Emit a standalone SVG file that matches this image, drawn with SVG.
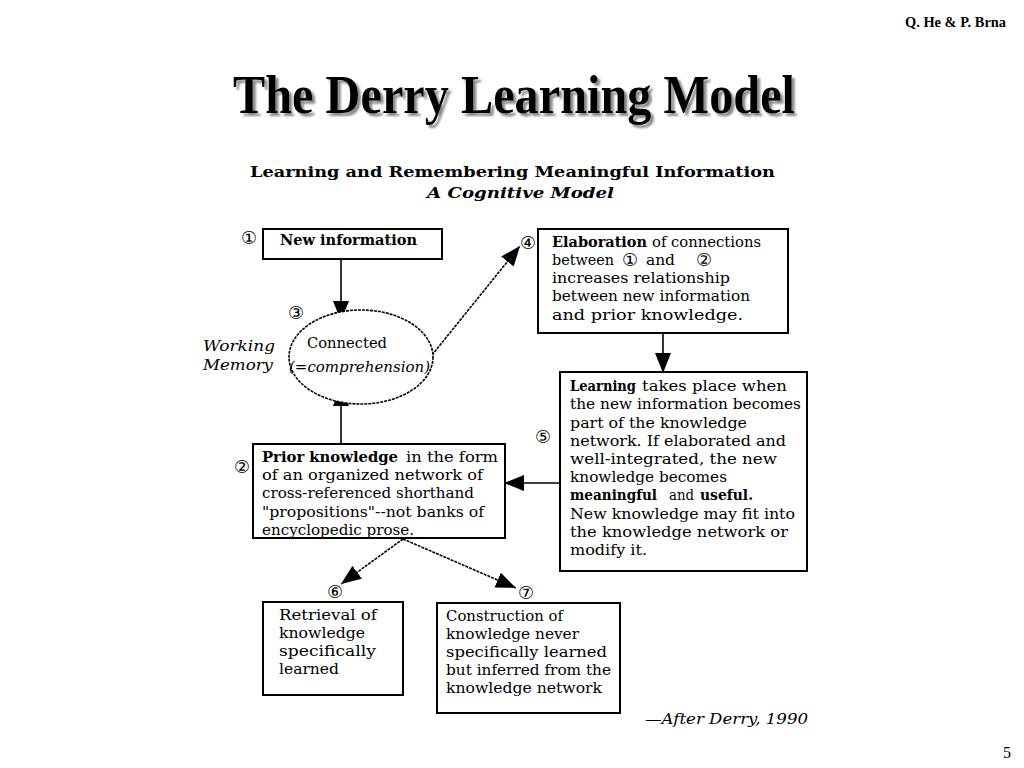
<svg xmlns="http://www.w3.org/2000/svg" width="1024" height="768" viewBox="0 0 1024 768">
<style>
.bx{fill:#fff;stroke:#000;stroke-width:2}
.t{font-family:"DejaVu Serif","Liberation Serif",serif;font-size:15.5px;fill:#000}
.b{font-weight:bold}
.num{font-family:"DejaVu Sans","Noto Sans CJK SC",sans-serif;font-size:18px;fill:#000}
.ln{stroke:#000;stroke-width:1.6;fill:none}
.dl{stroke:#000;stroke-width:1.6;fill:none;stroke-dasharray:3 1}
</style>
<defs>
<marker id="ah" markerUnits="userSpaceOnUse" markerWidth="22" markerHeight="18" refX="20" refY="9" orient="auto">
<path d="M0,1 L20,9 L0,17 Z" fill="#000"/>
</marker>
<filter id="sh" x="-5%" y="-20%" width="110%" height="140%">
<feDropShadow dx="3" dy="3" stdDeviation="1" flood-color="#888" flood-opacity="1"/>
</filter>
</defs>
<rect width="1024" height="768" fill="#fff"/>
<text x="905" y="27" textLength="101" lengthAdjust="spacingAndGlyphs" font-family="Liberation Serif,serif" font-weight="bold" font-size="14">Q. He &amp; P. Brna</text>
<text x="233" y="113" textLength="562" lengthAdjust="spacingAndGlyphs" font-family="Liberation Serif,serif" font-weight="bold" font-size="54" filter="url(#sh)">The Derry Learning Model</text>
<text x="1003" y="758" font-family="Liberation Serif,serif" font-size="16">5</text>
<text x="250" y="177" textLength="525" lengthAdjust="spacingAndGlyphs" class="t b" font-size="17">Learning and Remembering Meaningful Information</text>
<text x="427" y="198" textLength="187" lengthAdjust="spacingAndGlyphs" class="t b" font-size="17" font-style="italic">A Cognitive Model</text>

<g id="connectors">
<line class="ln" x1="341" y1="259" x2="341" y2="321" marker-end="url(#ah)"/>
<line class="ln" x1="341" y1="444" x2="341" y2="386" marker-end="url(#ah)"/>
<line class="dl" x1="432" y1="355" x2="520" y2="246" marker-end="url(#ah)"/>
<line class="ln" x1="663" y1="333" x2="663" y2="373" marker-end="url(#ah)"/>
<line class="ln" x1="560" y1="483" x2="504" y2="483" marker-end="url(#ah)"/>
<line class="dl" x1="403" y1="539" x2="341" y2="584" marker-end="url(#ah)"/>
<line class="dl" x1="403" y1="539" x2="516" y2="588" marker-end="url(#ah)"/>
</g>

<g id="n1">
<rect class="bx" x="263" y="229" width="179" height="30"/>
<text class="num" x="249" y="244" text-anchor="middle">①</text>
<text class="t b" x="280" y="245" textLength="137" lengthAdjust="spacingAndGlyphs">New information</text>
</g>
<g id="n3">
<ellipse cx="361" cy="357" rx="72" ry="47" fill="#fff" stroke="#000" stroke-width="1.6" stroke-dasharray="3 1"/>
<text class="num" x="296" y="319" text-anchor="middle">③</text>
<text x="203" y="351" textLength="72" lengthAdjust="spacingAndGlyphs" class="t" font-style="italic">Working</text>
<text x="203" y="370" textLength="70" lengthAdjust="spacingAndGlyphs" class="t" font-style="italic">Memory</text>
<text class="t" x="307" y="348" textLength="80" lengthAdjust="spacingAndGlyphs" font-family="DejaVu Sans,sans-serif" font-size="14.5">Connected</text>
<text class="t" x="289" y="372" textLength="141" lengthAdjust="spacingAndGlyphs" font-style="italic" font-size="14.5">(=comprehension)</text>
</g>
<g id="n4">
<rect class="bx" x="538" y="229" width="250" height="104"/>
<text class="num" x="528" y="249" text-anchor="middle">④</text>
<text class="t b" x="552" y="247" textLength="95" lengthAdjust="spacingAndGlyphs">Elaboration</text>
<text class="t" x="652" y="247" textLength="109" lengthAdjust="spacingAndGlyphs">of connections</text>
<text class="t" x="552" y="265" textLength="62" lengthAdjust="spacingAndGlyphs">between</text>
<text class="num" x="630" y="266" text-anchor="middle" font-size="15.5">①</text>
<text class="t" x="646" y="265" textLength="29" lengthAdjust="spacingAndGlyphs">and</text>
<text class="num" x="704" y="266" text-anchor="middle" font-size="15.5">②</text>
<text class="t" x="552" y="283" textLength="178" lengthAdjust="spacingAndGlyphs">increases relationship</text>
<text class="t" x="552" y="301" textLength="198" lengthAdjust="spacingAndGlyphs">between new information</text>
<text class="t" x="552" y="320" textLength="191" lengthAdjust="spacingAndGlyphs">and prior knowledge.</text>
</g>
<g id="n5">
<rect class="bx" x="560" y="372" width="247" height="199"/>
<text class="num" x="543" y="443" text-anchor="middle">⑤</text>
<text class="t b" x="570" y="391" textLength="66" lengthAdjust="spacingAndGlyphs">Learning</text>
<text class="t" x="642" y="391" textLength="145" lengthAdjust="spacingAndGlyphs">takes place when</text>
<text class="t" x="570" y="409" textLength="231" lengthAdjust="spacingAndGlyphs">the new information becomes</text>
<text class="t" x="570" y="428" textLength="177" lengthAdjust="spacingAndGlyphs">part of the knowledge</text>
<text class="t" x="570" y="446" textLength="216" lengthAdjust="spacingAndGlyphs">network. If elaborated and</text>
<text class="t" x="570" y="464" textLength="207" lengthAdjust="spacingAndGlyphs">well-integrated, the new</text>
<text class="t" x="570" y="482" textLength="157" lengthAdjust="spacingAndGlyphs">knowledge becomes</text>
<text class="t b" x="570" y="500" textLength="87" lengthAdjust="spacingAndGlyphs">meaningful</text>
<text class="t" x="669" y="500" textLength="25" lengthAdjust="spacingAndGlyphs">and</text>
<text class="t b" x="700" y="500" textLength="53" lengthAdjust="spacingAndGlyphs">useful.</text>
<text class="t" x="570" y="519" textLength="225" lengthAdjust="spacingAndGlyphs">New knowledge may fit into</text>
<text class="t" x="570" y="537" textLength="218" lengthAdjust="spacingAndGlyphs">the knowledge network or</text>
<text class="t" x="570" y="555" textLength="77" lengthAdjust="spacingAndGlyphs">modify it.</text>
</g>
<g id="n2">
<rect class="bx" x="253" y="444" width="252" height="94"/>
<text class="num" x="242" y="473" text-anchor="middle">②</text>
<text class="t b" x="262" y="462" textLength="136" lengthAdjust="spacingAndGlyphs">Prior knowledge</text>
<text class="t" x="406" y="462" textLength="92" lengthAdjust="spacingAndGlyphs">in the form</text>
<text class="t" x="262" y="480" textLength="221" lengthAdjust="spacingAndGlyphs">of an organized network of</text>
<text class="t" x="262" y="498" textLength="212" lengthAdjust="spacingAndGlyphs">cross-referenced shorthand</text>
<text class="t" x="262" y="517" textLength="222" lengthAdjust="spacingAndGlyphs">"propositions"--not banks of</text>
<text class="t" x="262" y="535" textLength="152" lengthAdjust="spacingAndGlyphs">encyclopedic prose.</text>
</g>
<g id="n6">
<rect class="bx" x="263" y="602" width="140" height="93"/>
<text class="num" x="335" y="598" text-anchor="middle">⑥</text>
<text class="t" x="279" y="620" textLength="98" lengthAdjust="spacingAndGlyphs">Retrieval of</text>
<text class="t" x="279" y="638" textLength="86" lengthAdjust="spacingAndGlyphs">knowledge</text>
<text class="t" x="279" y="656" textLength="97" lengthAdjust="spacingAndGlyphs">specifically</text>
<text class="t" x="279" y="674" textLength="60" lengthAdjust="spacingAndGlyphs">learned</text>
</g>
<g id="n7">
<rect class="bx" x="437" y="603" width="183" height="110"/>
<text class="num" x="526" y="599" text-anchor="middle">⑦</text>
<text class="t" x="446" y="621" textLength="117" lengthAdjust="spacingAndGlyphs">Construction of</text>
<text class="t" x="446" y="639" textLength="133" lengthAdjust="spacingAndGlyphs">knowledge never</text>
<text class="t" x="446" y="657" textLength="161" lengthAdjust="spacingAndGlyphs">specifically learned</text>
<text class="t" x="446" y="675" textLength="165" lengthAdjust="spacingAndGlyphs">but inferred from the</text>
<text class="t" x="446" y="693" textLength="156" lengthAdjust="spacingAndGlyphs">knowledge network</text>
</g>
<text x="645" y="724" textLength="163" lengthAdjust="spacingAndGlyphs" class="t" font-style="italic" font-size="15">—After Derry, 1990</text>
</svg>
